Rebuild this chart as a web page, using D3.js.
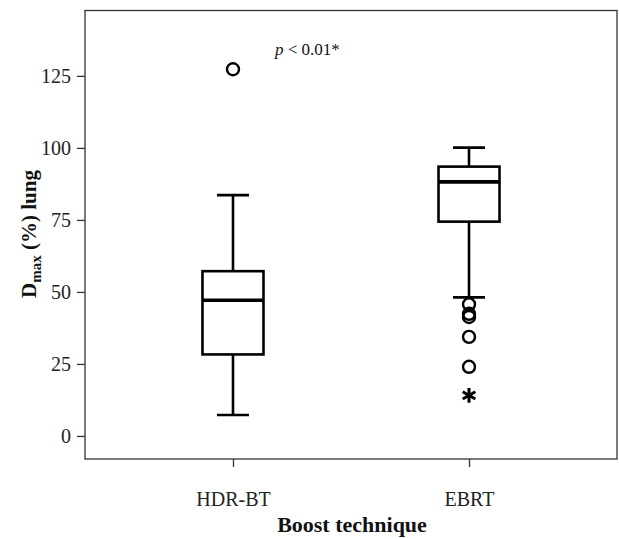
<!DOCTYPE html>
<html>
<head>
<meta charset="utf-8">
<script src="https://cdn.jsdelivr.net/npm/d3@7"></script>
<style>
  body { margin: 0; background: #fff; }
  text { font-family: "Liberation Serif", "Times New Roman", serif; }
</style>
</head>
<body>
<div class="canvas"></div>
<script>
// data
const groups = ["HDR-BT", "EBRT"];
const whiskerLow = [7.3, 48.1];
const q1 = [28.3, 74.4];
const median = [47.1, 88.2];
const q3 = [57.2, 93.5];
const whiskerHigh = [83.6, 100.1];
const outliers = [[127.3], [45.7, 42.4, 41.3, 34.4, 24.0]];
const extremes = [[], [14.1]];
const yTicks = [0, 25, 50, 75, 100, 125];

const width = 619, height = 539;
const margin = {top: 10.5, right: 2, bottom: 80, left: 85};
const graphWidth = width - margin.left - margin.right;
const graphHeight = height - margin.top - margin.bottom;

const svg = d3.select(".canvas").append("svg")
    .attr("width", width)
    .attr("height", height);

const graph = svg.append("g")
    .attr("transform", `translate(${margin.left}, ${margin.top})`);

//scales
const x = d3.scalePoint()
    .domain(groups)
    .range([0, graphWidth])
    .padding(0.627);

const y = d3.scaleLinear()
    .domain([-8, 147.7])
    .range([graphHeight, 0]);

//frame
graph.append("rect")
    .attr("width", graphWidth)
    .attr("height", graphHeight)
    .attr("fill", "none")
    .attr("stroke", "#333")
    .attr("stroke-width", 1.3);

//axes
const yAxis = graph.append("g")
    .call(d3.axisLeft(y).tickValues(yTicks).tickSize(8).tickPadding(6));
const xAxis = graph.append("g")
    .attr("transform", `translate(0, ${graphHeight})`)
    .call(d3.axisBottom(x).tickSize(8).tickPadding(25));

[yAxis, xAxis].forEach(a => {
  a.select(".domain").remove();
  a.selectAll("line").attr("stroke", "#333").attr("stroke-width", 1.3);
  a.selectAll("text")
    .attr("fill", "#222")
    .style("font-size", "20px")
    .style("font-family", "'Liberation Serif', serif");
});
yAxis.selectAll("text").attr("dy", "0.34em");

const boxW = 61, capW = 32;
const sw = 2.6;

groups.forEach((g, i) => {
  const cx = x(g);
  const box = graph.append("g");
  // whiskers
  box.append("line")
    .attr("x1", cx).attr("x2", cx)
    .attr("y1", y(whiskerLow[i])).attr("y2", y(q1[i]))
    .attr("stroke", "#000").attr("stroke-width", sw);
  box.append("line")
    .attr("x1", cx).attr("x2", cx)
    .attr("y1", y(q3[i])).attr("y2", y(whiskerHigh[i]))
    .attr("stroke", "#000").attr("stroke-width", sw);
  [whiskerLow[i], whiskerHigh[i]].forEach(v => {
    box.append("line")
      .attr("x1", cx - capW / 2).attr("x2", cx + capW / 2)
      .attr("y1", y(v)).attr("y2", y(v))
      .attr("stroke", "#000").attr("stroke-width", sw);
  });
  // box
  box.append("rect")
    .attr("x", cx - boxW / 2)
    .attr("y", y(q3[i]))
    .attr("width", boxW)
    .attr("height", y(q1[i]) - y(q3[i]))
    .attr("fill", "none")
    .attr("stroke", "#000")
    .attr("stroke-width", sw);
  box.append("line")
    .attr("x1", cx - boxW / 2).attr("x2", cx + boxW / 2)
    .attr("y1", y(median[i])).attr("y2", y(median[i]))
    .attr("stroke", "#000").attr("stroke-width", 3.6);
  // outliers
  box.selectAll("circle")
    .data(outliers[i])
    .enter()
    .append("circle")
    .attr("cx", cx)
    .attr("cy", d => y(d))
    .attr("r", 6)
    .attr("fill", "none")
    .attr("stroke", "#000")
    .attr("stroke-width", 2.4);
  box.selectAll("path.extreme")
    .data(extremes[i])
    .enter()
    .append("path")
    .attr("class", "extreme")
    .attr("d", d3.symbol(d3.symbolAsterisk, 150))
    .attr("transform", d => `translate(${cx}, ${y(d)})`)
    .attr("fill", "none")
    .attr("stroke", "#000")
    .attr("stroke-width", 3);
});

//p-value note
const note = svg.append("text")
    .attr("x", 275)
    .attr("y", 55)
    .style("font-size", "17px")
    .attr("fill", "#111");
note.append("tspan").style("font-style", "italic").text("p");
note.append("tspan").text(" < 0.01*");

//axis titles
svg.append("text")
    .attr("x", 352)
    .attr("y", 532)
    .attr("text-anchor", "middle")
    .style("font-size", "22px")
    .style("font-weight", "bold")
    .attr("fill", "#111")
    .text("Boost technique");

const yl = svg.append("text")
    .attr("transform", `translate(36, 234) rotate(-90)`)
    .attr("text-anchor", "middle")
    .style("font-size", "21px")
    .style("font-weight", "bold")
    .attr("fill", "#111");
yl.append("tspan").text("D");
yl.append("tspan").attr("dy", 5).style("font-size", "15px").text("max");
yl.append("tspan").attr("dy", -5).text(" (%) lung");
</script>
</body>
</html>
